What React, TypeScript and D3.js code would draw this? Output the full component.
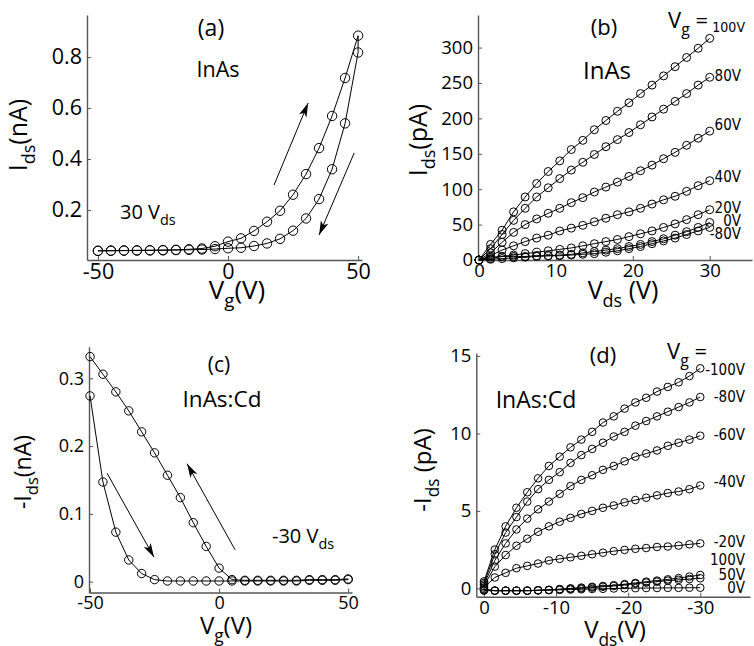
import React, { useRef, useEffect } from "react";
import * as d3 from "d3";

// (a) InAs, Ids vs Vg at 30 V_ds (nA)
const vgA = [-50, -45, -40, -35, -30, -25, -20, -15, -10, -5, 0, 5, 10, 15, 20, 25, 30, 35, 40, 45, 50];
const idsUpA = [0.04, 0.041, 0.041, 0.042, 0.042, 0.043, 0.044, 0.046, 0.049, 0.058, 0.076, 0.089, 0.118, 0.154, 0.197, 0.26, 0.341, 0.443, 0.569, 0.718, 0.884];
const idsDownA = [0.04, 0.04, 0.041, 0.041, 0.042, 0.042, 0.043, 0.044, 0.045, 0.047, 0.05, 0.052, 0.059, 0.069, 0.087, 0.119, 0.167, 0.243, 0.36, 0.54, 0.818];

// (b) InAs, Ids vs Vds (pA) for several Vg
const vdsB = [0, 1.5, 3, 4.5, 6, 7.5, 9, 10.5, 12, 13.5, 15, 16.5, 18, 19.5, 21, 22.5, 24, 25.5, 27, 28.5, 30];
const vgLabelsB = ["100V", "80V", "60V", "40V", "20V", "0V", "-80V"];
const idsB = [
  [0, 22, 42, 68, 89, 108, 125, 140, 156, 169, 184, 197, 210, 222, 235, 247, 260, 273, 286, 299, 313],
  [0, 16, 36, 56, 73, 89, 102, 115, 127, 138, 149, 160, 170, 180, 191, 202, 213, 224, 235, 247, 258],
  [0, 10, 25, 39, 50, 58, 66, 73, 81, 88, 96, 103, 110, 118, 126, 134, 143, 152, 162, 172, 182],
  [0, 6, 14, 20, 26, 31, 35, 41, 45, 49, 54, 59, 64, 68, 73, 79, 85, 90, 97, 105, 112],
  [0, 2, 5, 7, 9, 11, 13, 15, 17, 20, 23, 26, 29, 33, 37, 41, 46, 51, 57, 64, 71],
  [0, 1, 2, 3, 4, 5, 6, 7, 8, 10, 12, 14, 16, 19, 22, 26, 30, 35, 40, 46, 53],
  [0, 4, 5, 5, 5, 6, 6, 6, 7, 8, 9, 11, 13, 16, 19, 23, 27, 31, 36, 41, 46],
];

// (c) InAs:Cd, -Ids vs Vg at -30 V_ds (nA)
const vgC = [-50, -45, -40, -35, -30, -25, -20, -15, -10, -5, 0, 5, 10, 15, 20, 25, 30, 35, 40, 45, 50];
const idsFwdC = [0.274, 0.147, 0.073, 0.032, 0.012, 0.003, 0.001, 0.001, 0.001, 0.001, 0.001, 0.001, 0.001, 0.001, 0.001, 0.001, 0.001, 0.002, 0.002, 0.002, 0.003];
const idsRevC = [0.332, 0.306, 0.28, 0.252, 0.221, 0.19, 0.157, 0.124, 0.087, 0.052, 0.02, 0.003, 0.002, 0.002, 0.002, 0.002, 0.002, 0.003, 0.003, 0.003, 0.004];

// (d) InAs:Cd, -Ids vs Vds (pA) for several Vg
const vdsD = [0, -1.5, -3, -4.5, -6, -7.5, -9, -10.5, -12, -13.5, -15, -16.5, -18, -19.5, -21, -22.5, -24, -25.5, -27, -28.5, -30];
const vgLabelsD = ["-100V", "-80V", "-60V", "-40V", "-20V", "100V", "50V", "0V"];
const idsD = [
  [0.45, 2.5, 4.0, 5.2, 6.2, 7.1, 7.9, 8.5, 9.1, 9.6, 10.1, 10.7, 11.1, 11.6, 12.0, 12.3, 12.7, 13.0, 13.3, 13.7, 14.2],
  [0.35, 2.2, 3.6, 4.6, 5.6, 6.4, 7.0, 7.5, 8.1, 8.6, 9.0, 9.4, 9.8, 10.1, 10.5, 10.8, 11.1, 11.4, 11.7, 12.0, 12.35],
  [0.25, 1.8, 2.9, 3.8, 4.5, 5.1, 5.6, 6.1, 6.6, 7.0, 7.3, 7.65, 7.9, 8.2, 8.5, 8.7, 8.9, 9.2, 9.4, 9.6, 9.85],
  [0.15, 1.4, 2.15, 2.75, 3.2, 3.65, 4.0, 4.3, 4.55, 4.8, 5.0, 5.2, 5.35, 5.55, 5.7, 5.85, 6.0, 6.15, 6.25, 6.4, 6.64],
  [0.05, 0.7, 1.0, 1.3, 1.45, 1.6, 1.8, 1.9, 2.0, 2.1, 2.2, 2.3, 2.4, 2.48, 2.55, 2.6, 2.67, 2.7, 2.76, 2.84, 2.9],
  [-0.05, -0.15, -0.15, -0.15, -0.15, -0.12, -0.1, -0.05, 0, 0.05, 0.1, 0.15, 0.2, 0.27, 0.35, 0.43, 0.5, 0.58, 0.66, 0.76, 0.86],
  [-0.1, -0.15, -0.15, -0.15, -0.15, -0.13, -0.1, -0.07, -0.03, 0, 0.05, 0.1, 0.15, 0.22, 0.3, 0.37, 0.43, 0.5, 0.55, 0.6, 0.65],
  [-0.15, -0.15, -0.15, -0.15, -0.15, -0.13, -0.12, -0.1, -0.08, -0.06, -0.04, -0.03, -0.01, 0, 0.01, 0.02, 0.02, 0.03, 0.03, 0.04, 0.04],
];

const FONT = "'Open Sans', 'Noto Sans', sans-serif";
const NARROW = "'Liberation Sans Narrow', 'DejaVu Sans Condensed', 'Open Sans', sans-serif";
const AXIS_COLOR = "#555";

function App() {
  const canvas = useRef(null);

  useEffect(() => {
    const svg = d3.select(canvas.current);
    svg.selectAll("*").remove();

    function axes(x, y, xTicks, yTicks, fs) {
      const bottom = y.range()[0];
      const left = x.range()[0];
      const gx = svg
        .append("g")
        .attr("transform", `translate(0,${bottom})`)
        .call(
          d3.axisBottom(x).tickValues(xTicks).tickFormat((d) => String(d))
            .tickSizeInner(-4).tickSizeOuter(0).tickPadding(4)
        );
      const gy = svg
        .append("g")
        .attr("transform", `translate(${left},0)`)
        .call(
          d3.axisLeft(y).tickValues(yTicks).tickFormat((d) => String(d))
            .tickSizeInner(-4).tickSizeOuter(0).tickPadding(5)
        );
      [gx, gy].forEach((g) => {
        g.attr("font-family", FONT).attr("font-size", fs);
        g.select(".domain").attr("stroke", AXIS_COLOR).attr("stroke-width", 1.4);
        g.selectAll(".tick line").attr("stroke", AXIS_COLOR);
        g.selectAll(".tick text").attr("fill", "#000");
      });
    }

    function series(x, y, xs, ys, r) {
      const pts = xs.map((v, i) => [v, ys[i]]);
      svg.append("path")
        .datum(pts)
        .attr("d", d3.line().x((d) => x(d[0])).y((d) => y(d[1])))
        .attr("fill", "none")
        .attr("stroke", "#000")
        .attr("stroke-width", 1);
      svg.append("g")
        .selectAll("circle")
        .data(pts)
        .join("circle")
        .attr("cx", (d) => x(d[0]))
        .attr("cy", (d) => y(d[1]))
        .attr("r", r)
        .attr("fill", "none")
        .attr("stroke", "#000")
        .attr("stroke-width", 1);
    }

    // text with subscripts; parts: [text, isSub]
    function rich(px, py, parts, fs, anchor = "middle", rotate = false, family = FONT) {
      const t = svg.append("text")
        .attr("x", px)
        .attr("y", py)
        .attr("font-family", family)
        .attr("font-size", fs)
        .attr("text-anchor", anchor)
        .attr("fill", "#000");
      if (rotate) t.attr("transform", `rotate(-90,${px},${py})`);
      let cur = 0;
      parts.forEach(([s, sub]) => {
        const target = sub ? fs * 0.32 : 0;
        t.append("tspan")
          .attr("dy", target - cur)
          .attr("font-size", sub ? fs * 0.72 : fs)
          .text(s);
        cur = target;
      });
    }

    function arrow(x0, y0, x1, y1) {
      svg.append("line")
        .attr("x1", x0).attr("y1", y0).attr("x2", x1).attr("y2", y1)
        .attr("stroke", "#000").attr("stroke-width", 1);
      const len = Math.hypot(x1 - x0, y1 - y0);
      const ux = (x1 - x0) / len, uy = (y1 - y0) / len;
      const hl = 14, hw = 4;
      const bx = x1 - ux * hl, by = y1 - uy * hl;
      const nx = x1 - ux * hl * 0.75, ny = y1 - uy * hl * 0.75;
      svg.append("path")
        .attr("d", `M${x1},${y1}L${bx - uy * hw},${by + ux * hw}L${nx},${ny}L${bx + uy * hw},${by - ux * hw}Z`)
        .attr("fill", "#000");
    }

    // ---- (a)
    {
      const x = d3.scaleLinear().domain([-54.2, 51.5]).range([87, 362]);
      const y = d3.scaleLinear().domain([0.004, 0.965]).range([260, 15]);
      axes(x, y, [-50, 0, 50], [0.2, 0.4, 0.6, 0.8], 21.5);
      const loopX = vgA.concat(vgA.slice().reverse());
      const loopY = idsUpA.concat(idsDownA.slice().reverse());
      series(x, y, loopX, loopY, 4.7);
      arrow(x(17.7), y(0.298), x(30.8), y(0.62));
      arrow(x(48.5), y(0.424), x(35), y(0.102));
      rich(211, 36, [["(a)"]], 23);
      rich(218, 77, [["InAs"]], 21.5);
      rich(120, 219, [["30 V"], ["ds", true]], 20, "start");
      rich(27, 135, [["I"], ["ds", true], ["(nA)"]], 25, "middle", true);
      rich(237, 299, [["V"], ["g", true], ["(V)"]], 26);
    }

    // ---- (b)
    {
      const x = d3.scaleLinear().domain([-0.13, 35.5]).range([478, 752]);
      const y = d3.scaleLinear().domain([0, 346]).range([260, 15]);
      axes(x, y, [0, 10, 20, 30], [0, 50, 100, 150, 200, 250, 300], 18.5);
      idsB.forEach((ys) => series(x, y, vdsB, ys, 4));
      const dyB = [0, 3.7, -1, 1.3, 3.3, 3.8, 11.8];
      vgLabelsB.forEach((lab, i) => {
        if (i === 0) return;
        const last = idsB[i][idsB[i].length - 1];
        rich(741, y(last) + dyB[i], [[lab]], 15, "end", false, NARROW);
      });
      rich(604, 35, [["(b)"]], 22);
      rich(607, 79, [["InAs"]], 24);
      rich(668, 28, [["V"], ["g", true], [" ="]], 22, "start");
      rich(745, 32, [[vgLabelsB[0]]], 14, "end", false, NARROW);
      rich(427, 140, [["I"], ["ds", true], ["(pA)"]], 25, "middle", true);
      rich(623, 299, [["V"], ["ds", true], [" (V)"]], 25);
    }

    // ---- (c)
    {
      const x = d3.scaleLinear().domain([-50.4, 51.5]).range([89, 352]);
      const y = d3.scaleLinear().domain([-0.016, 0.3466]).range([592.5, 346.7]);
      axes(x, y, [-50, 0, 50], [0, 0.1, 0.2, 0.3], 18);
      const loopX = vgC.concat(vgC.slice().reverse());
      const loopY = idsFwdC.concat(idsRevC.slice().reverse());
      series(x, y, loopX, loopY, 4.2);
      arrow(x(-43.4), y(0.16), x(-25.2), y(0.036));
      arrow(x(6.2), y(0.047), x(-12.4), y(0.174));
      rich(219, 372, [["(c)"]], 21);
      rich(222, 407, [["InAs:Cd"]], 22.5);
      rich(272, 543, [["-30 V"], ["ds", true]], 20, "start");
      rich(31, 472, [["-I"], ["ds", true], ["(nA)"]], 23, "middle", true);
      rich(226, 634, [["V"], ["g", true], ["(V)"]], 24);
    }

    // ---- (d)
    {
      const x = d3.scaleLinear().domain([1.07, -36.9]).range([476.3, 750]);
      const y = d3.scaleLinear().domain([-0.54, 15.19]).range([596.7, 353]);
      axes(x, y, [0, -10, -20, -30], [0, 5, 10, 15], 18.5);
      idsD.forEach((ys) => series(x, y, vdsD, ys, 3.8));
      const dyD = [0, 5, 4.3, 1.6, 3.6, -10.5, 1.8, 5.6];
      vgLabelsD.forEach((lab, i) => {
        if (i === 0) return;
        const last = idsD[i][idsD[i].length - 1];
        rich(745, y(last) + dyD[i], [[lab]], 15, "end", false, NARROW);
      });
      rich(603, 363, [["(d)"]], 22);
      rich(667, 359, [["V"], ["g", true], [" ="]], 22, "start");
      rich(745, 375, [[vgLabelsD[0]]], 15, "end", false, NARROW);
      rich(536, 408, [["InAs:Cd"]], 23);
      rich(431, 470, [["-I"], ["ds", true], [" (pA)"]], 24, "middle", true);
      rich(615, 638, [["V"], ["ds", true], ["(V)"]], 24);
    }
  }, []);

  return (
    <svg
      ref={canvas}
      width={754}
      height={646}
      style={{ position: "absolute", left: 0, top: 0, background: "#fff" }}
    />
  );
}

export default App;
